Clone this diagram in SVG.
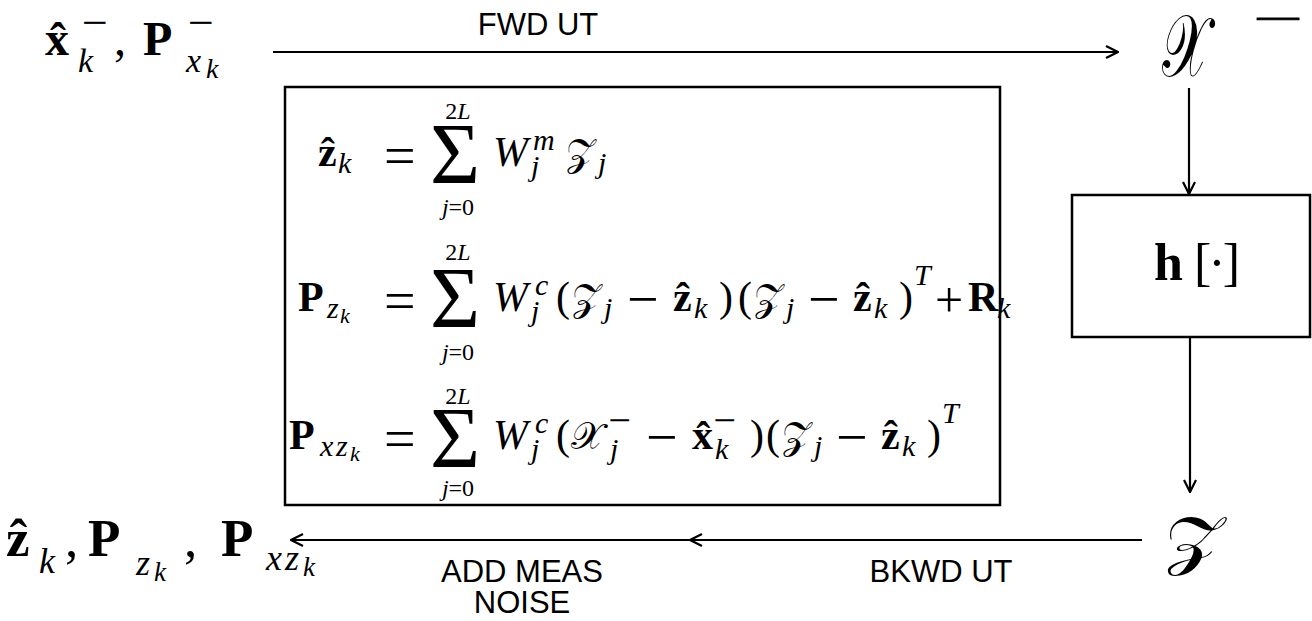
<svg xmlns="http://www.w3.org/2000/svg" width="1312" height="621" viewBox="0 0 1312 621">
<defs>
<style>
.bg{fill:#fff}
.ln{stroke:#000;stroke-width:2.2;fill:none}
.box{stroke:#000;stroke-width:2.5;fill:none}
.t{font-family:"Liberation Sans",Arial,sans-serif;font-size:31px;fill:#000}
.m{font-family:"Liberation Serif","Times New Roman",serif;fill:#000;font-size:42px}
.b{font-weight:bold}
.i{font-style:italic}
.u{font-style:normal}
.s{font-size:30px}
.ss{font-size:22px}
.lim{font-size:24px}
.op{font-size:56px}
.scr{font-family:"DejaVu Serif","DejaVu Sans","Liberation Serif",serif;font-style:normal;font-weight:normal;font-size:38px}
.sig{font-family:"Liberation Serif","Times New Roman",serif;font-size:86px;fill:#000}
</style>
<marker id="ah" viewBox="0 0 14 14" refX="13" refY="7" markerWidth="14" markerHeight="14" markerUnits="userSpaceOnUse" orient="auto">
<path d="M1,1 L13,7 L1,13" fill="none" stroke="#000" stroke-width="2.2"/>
</marker>
</defs>
<rect class="bg" x="0" y="0" width="1312" height="621"/>

<g id="connectors">
<line class="ln" x1="273" y1="52" x2="1118" y2="52" marker-end="url(#ah)"/>
<text class="t" x="538" y="35" text-anchor="middle">FWD UT</text>
<line class="ln" x1="1189" y1="88" x2="1189" y2="194" marker-end="url(#ah)"/>
<line class="ln" x1="1190" y1="337" x2="1190" y2="492" marker-end="url(#ah)"/>
<path class="ln" d="M1142,540 L690,540 L291,540" marker-mid="url(#ah)" marker-end="url(#ah)"/>
<text class="t" x="941" y="582" text-anchor="middle">BKWD UT</text>
<text class="t" x="522" y="582" text-anchor="middle">ADD MEAS</text>
<text class="t" x="522" y="613" text-anchor="middle">NOISE</text>
</g>

<g id="prior">
<text class="m" style="font-size:48px" y="55"><tspan class="b" x="45">x̂</tspan><tspan class="i" style="font-size:34px" x="78" y="72">k</tspan><tspan style="font-size:34px;stroke:#000;stroke-width:0.5" x="82" y="34" textLength="25" lengthAdjust="spacingAndGlyphs">−</tspan><tspan x="114" y="55">,</tspan><tspan class="b" x="143" y="55">P</tspan><tspan style="font-size:34px;stroke:#000;stroke-width:0.5" x="188" y="34" textLength="25" lengthAdjust="spacingAndGlyphs">−</tspan><tspan class="i" style="font-size:34px" x="186" y="72">x</tspan><tspan class="i" style="font-size:28px" x="206" y="78">k</tspan></text>
</g>

<g id="sigma-points">
<text class="m scr" style="font-size:87px" transform="translate(1162,76) scale(0.63,1)" x="0" y="0">𝒳</text>
<text class="m" style="font-size:34px;stroke:#000;stroke-width:1" x="1253" y="30" textLength="49" lengthAdjust="spacingAndGlyphs">−</text>
</g>

<g id="h-box">
<rect class="box" x="1072" y="195" width="238" height="142"/>
<text class="m" style="font-size:52px" y="280"><tspan class="b" x="1154">h</tspan><tspan x="1194" style="letter-spacing:-3px">[·]</tspan></text>
</g>

<g id="z-points">
<text class="m scr" style="font-size:64px" transform="translate(1165,562) scale(1.2,1)" x="0" y="0">𝒵</text>
</g>

<g id="output">
<text class="m" style="font-size:53px" y="556"><tspan class="b" x="6">ẑ</tspan><tspan class="i" style="font-size:36px" x="39" y="573">k</tspan><tspan x="65" y="556">,</tspan><tspan class="b" x="88">P</tspan><tspan class="i" style="font-size:36px" x="136" y="575">z</tspan><tspan class="i" style="font-size:27px" x="154" y="581">k</tspan><tspan x="184" y="556">,</tspan><tspan class="b" x="221">P</tspan><tspan class="i" style="font-size:36px" x="266" y="570">x</tspan><tspan class="i" style="font-size:36px" x="285" y="570">z</tspan><tspan class="i" style="font-size:27px" x="303" y="576">k</tspan></text>
</g>

<g id="equations">
<rect class="box" x="285" y="87" width="715" height="418"/>
<!-- line 1 -->
<text class="m" y="166"><tspan class="b" x="318">ẑ</tspan><tspan class="i s" x="338" y="173">k</tspan><tspan class="op" x="384" y="175">=</tspan></text>
<text class="sig" x="430" y="183">Σ</text>
<text class="m i lim" x="458" y="119" text-anchor="middle"><tspan class="u">2</tspan>L</text>
<text class="m lim" x="458" y="215" text-anchor="middle"><tspan class="i">j</tspan>=0</text>
<text class="m" y="166"><tspan class="i" x="493">W</tspan><tspan class="i s" x="533" y="150">m</tspan><tspan class="i s" x="531" y="176">j</tspan><tspan class="scr" x="566" y="166">𝒵</tspan><tspan class="i s" x="598" y="173">j</tspan></text>
<!-- line 2 -->
<text class="m" y="311"><tspan class="b" x="298">P</tspan><tspan class="i s" x="327" y="318">z</tspan><tspan class="i ss" x="340" y="323">k</tspan><tspan class="op" x="384" y="320">=</tspan></text>
<text class="sig" x="430" y="327">Σ</text>
<text class="m i lim" x="458" y="260" text-anchor="middle"><tspan class="u">2</tspan>L</text>
<text class="m lim" x="458" y="360" text-anchor="middle"><tspan class="i">j</tspan>=0</text>
<text class="m" y="311"><tspan class="i" x="493">W</tspan><tspan class="i s" x="535" y="295">c</tspan><tspan class="i s" x="531" y="321">j</tspan><tspan x="556" y="311">(</tspan><tspan class="scr" x="572">𝒵</tspan><tspan class="i s" x="604" y="318">j</tspan><tspan class="op" x="627" y="318">−</tspan><tspan class="b" x="673" y="311">ẑ</tspan><tspan class="i s" x="694" y="318">k</tspan><tspan x="719" y="311">)</tspan><tspan x="738">(</tspan><tspan class="scr" x="754">𝒵</tspan><tspan class="i s" x="786" y="318">j</tspan><tspan class="op" x="808" y="318">−</tspan><tspan class="b" x="853" y="311">ẑ</tspan><tspan class="i s" x="874" y="318">k</tspan><tspan x="899" y="311">)</tspan><tspan class="i s" x="914" y="285">T</tspan><tspan class="op" style="font-size:50px" x="935" y="317">+</tspan><tspan class="b" x="968" y="311">R</tspan><tspan class="i s" x="997" y="318">k</tspan></text>
<!-- line 3 -->
<text class="m" y="449"><tspan class="b" x="289">P</tspan><tspan class="i s" x="320" y="456">x</tspan><tspan class="i s" x="336" y="456">z</tspan><tspan class="i ss" x="350" y="461">k</tspan><tspan class="op" x="384" y="458">=</tspan></text>
<text class="sig" x="430" y="467">Σ</text>
<text class="m i lim" x="458" y="404" text-anchor="middle"><tspan class="u">2</tspan>L</text>
<text class="m lim" x="458" y="496" text-anchor="middle"><tspan class="i">j</tspan>=0</text>
<text class="m" y="449"><tspan class="i" x="493">W</tspan><tspan class="i s" x="535" y="433">c</tspan><tspan class="i s" x="531" y="459">j</tspan><tspan x="556" y="449">(</tspan><tspan class="scr" x="571">𝒳</tspan><tspan style="font-size:30px;stroke:#000;stroke-width:0.4" x="609" y="430" textLength="22" lengthAdjust="spacingAndGlyphs">−</tspan><tspan class="i s" x="610" y="459">j</tspan><tspan class="op" x="646" y="456">−</tspan><tspan class="b" x="692" y="449">x̂</tspan><tspan style="font-size:30px;stroke:#000;stroke-width:0.4" x="714" y="430" textLength="22" lengthAdjust="spacingAndGlyphs">−</tspan><tspan class="i s" x="715" y="459">k</tspan><tspan x="750" y="449">)</tspan><tspan x="766">(</tspan><tspan class="scr" x="782">𝒵</tspan><tspan class="i s" x="814" y="456">j</tspan><tspan class="op" x="836" y="456">−</tspan><tspan class="b" x="881" y="449">ẑ</tspan><tspan class="i s" x="902" y="456">k</tspan><tspan x="927" y="449">)</tspan><tspan class="i s" x="942" y="423">T</tspan></text>
</g>
</svg>
